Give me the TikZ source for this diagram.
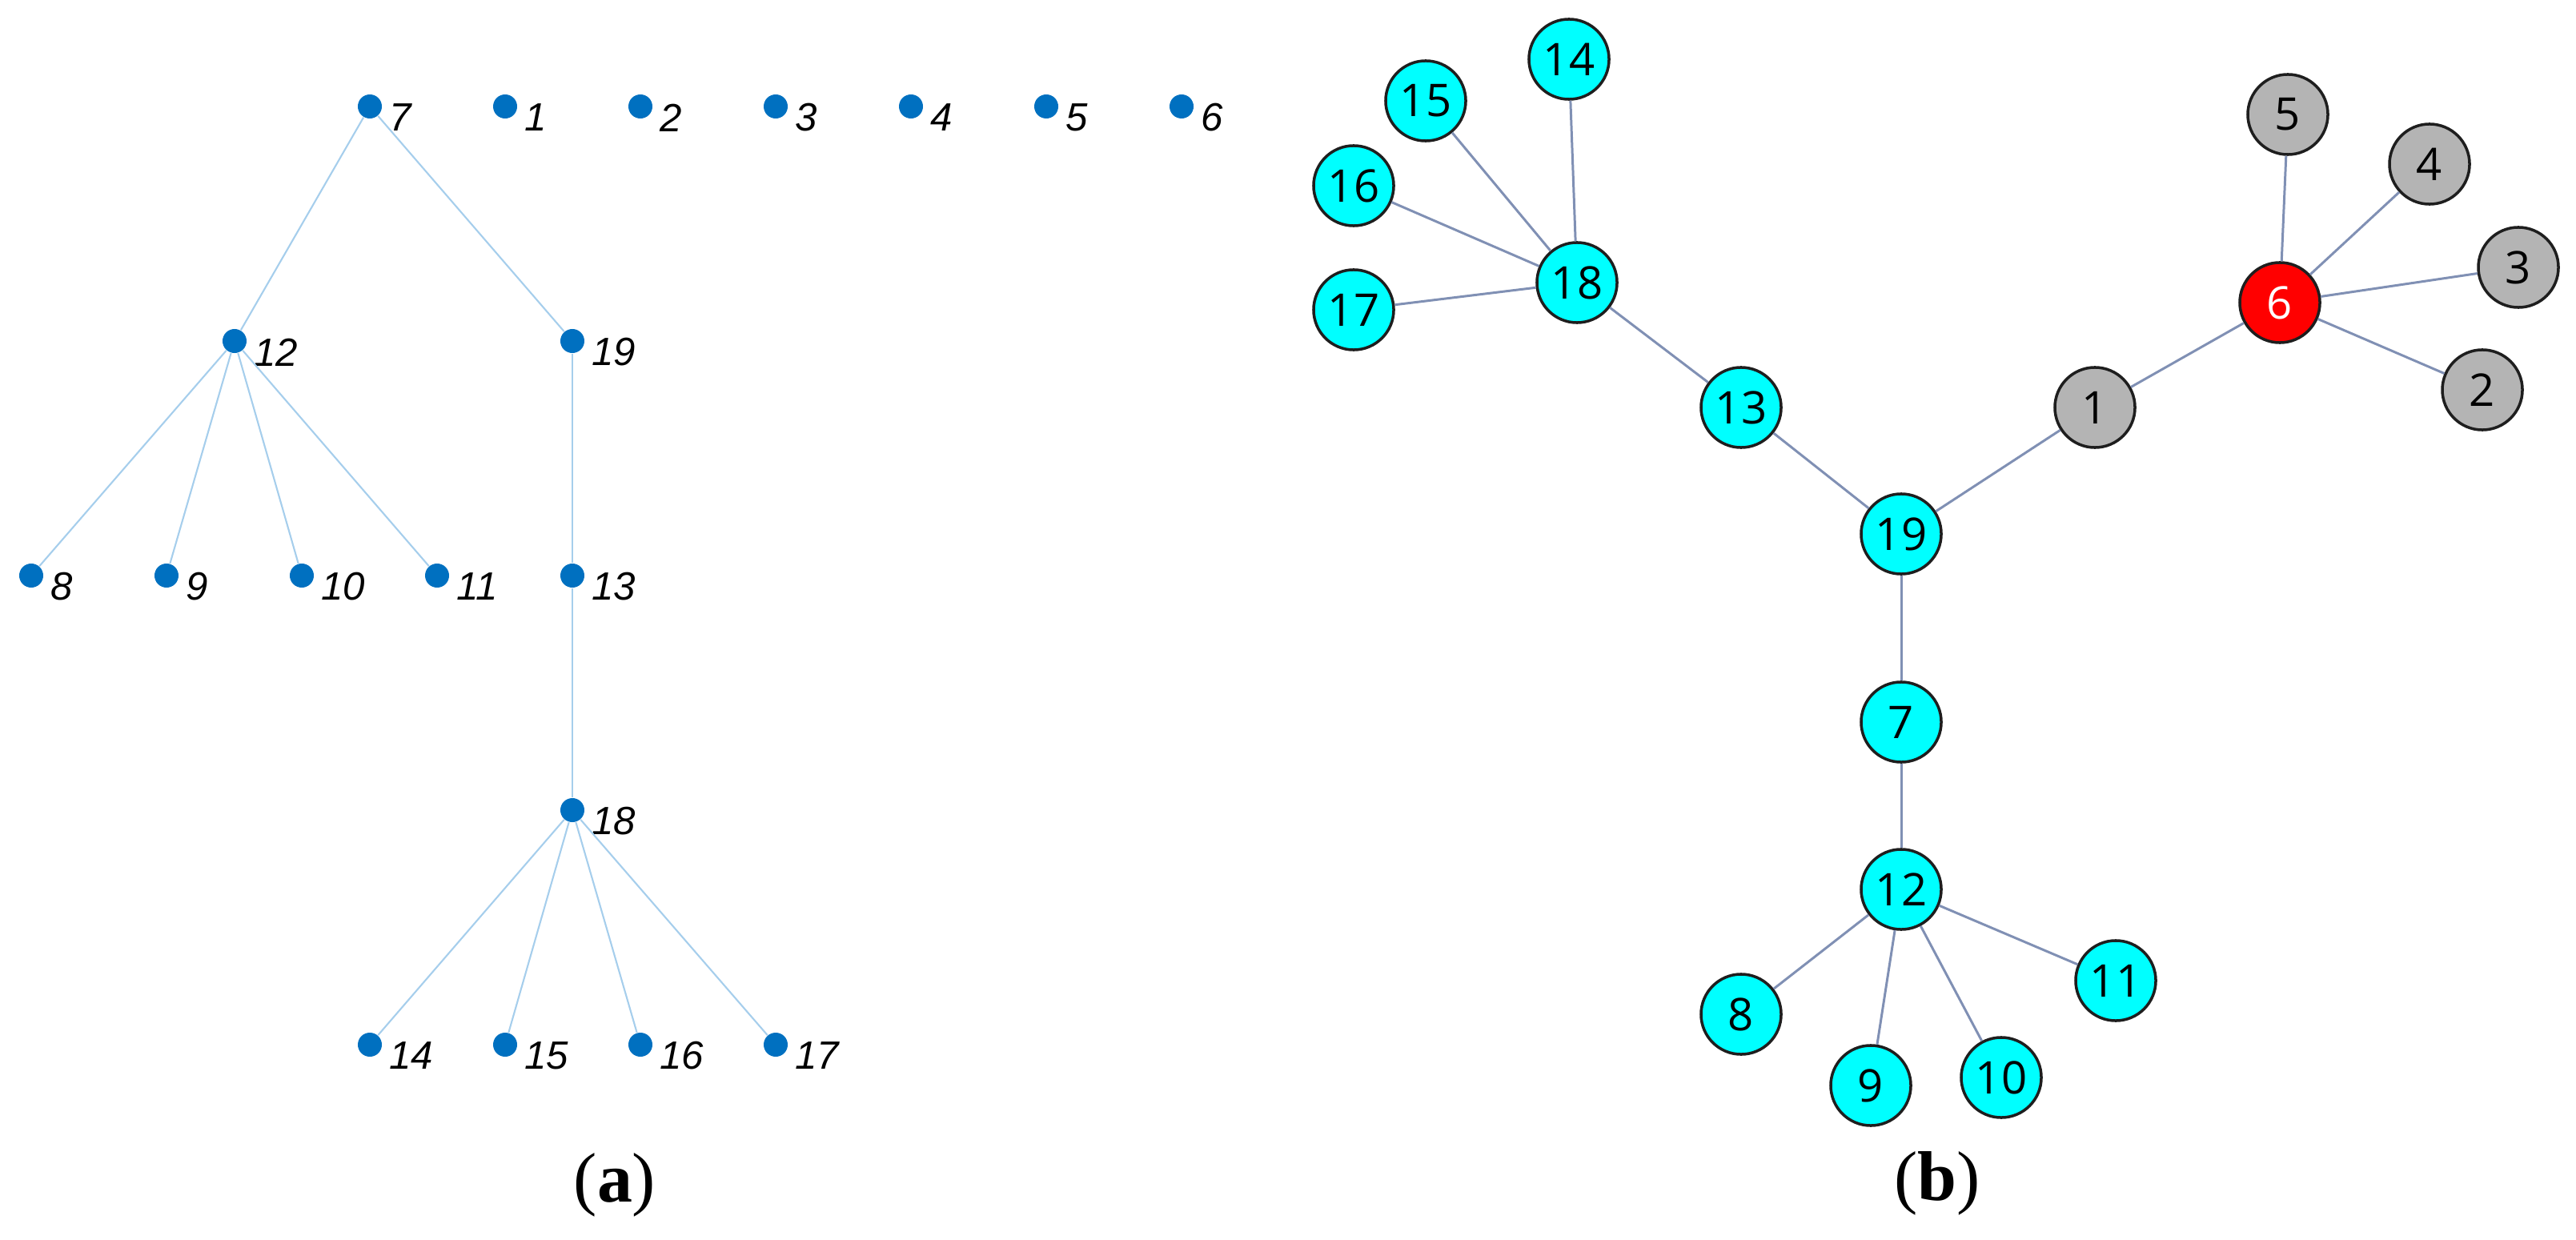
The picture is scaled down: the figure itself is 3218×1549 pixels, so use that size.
\documentclass[tikz,border=0pt]{standalone}
\usepackage{fontspec}
\setmainfont{Liberation Serif}
\newfontfamily\nodefont{Open Sans}
\newfontfamily\lblfont{Liberation Sans}
\definecolor{dotblue}{RGB}{0,112,192}
\definecolor{edgeblue}{RGB}{166,206,236}
\definecolor{edgegray}{RGB}{128,144,180}
\definecolor{nodecyan}{RGB}{0,255,255}
\definecolor{nodegray}{RGB}{180,180,180}
\definecolor{nodered}{RGB}{255,0,0}
\definecolor{rim}{RGB}{30,30,30}
\tikzset{
  tdot/.style={circle,fill=dotblue,minimum size=0.3cm,inner sep=0pt},
  lbl/.style={font=\lblfont\itshape\fontsize{14}{16}\selectfont,inner sep=0pt,xshift=0.08cm,yshift=-0.14cm},
  tedge/.style={draw=edgeblue,line width=0.6pt},
  vert/.style={circle,draw=rim,line width=1pt,minimum size=1cm,inner sep=0pt,font=\nodefont\fontsize{16}{19}\selectfont},
  vcyan/.style={vert,fill=nodecyan},
  vgray/.style={vert,fill=nodegray},
  vred/.style={vert,fill=nodered,text=white},
  gedge/.style={draw=edgegray,line width=0.85pt},
  subcap/.style={font=\fontsize{25}{28}\selectfont,inner sep=0pt}
}
\begin{document}
\begin{tikzpicture}[x=0.01cm,y=-0.01cm]
  \useasboundingbox (0,0) rectangle (3218,1549);
  % (a)
  \node[tdot,label={[lbl]right:7}] (a7) at (462,133) {};
  \foreach \i in {1,...,6}
    \node[tdot,label={[lbl]right:\i}] (a\i) at ({462+169*\i},133) {};
  \node[tdot,label={[lbl]right:12}] (a12) at (293,426) {};
  \node[tdot,label={[lbl]right:19}] (a19) at (715,426) {};
  \foreach \i in {8,...,11}
    \node[tdot,label={[lbl]right:\i}] (a\i) at ({39+169*(\i-8)},719) {};
  \node[tdot,label={[lbl]right:13}] (a13) at (715,719) {};
  \node[tdot,label={[lbl]right:18}] (a18) at (715,1012) {};
  \foreach \i in {14,...,17}
    \node[tdot,label={[lbl]right:\i}] (a\i) at ({462+169*(\i-14)},1305) {};
  \draw[tedge] (a7) -- (a12);
  \draw[tedge] (a7) -- (a19);
  \foreach \i in {8,...,11} \draw[tedge] (a12) -- (a\i);
  \draw[tedge] (a19) -- (a13) -- (a18);
  \foreach \i in {14,...,17} \draw[tedge] (a18) -- (a\i);
  \node[subcap] (capa) at (768,1480) {(\textbf{a})};
  % (b)
  \node[vcyan] (b14) at (1960,74) {14};
  \node[vcyan] (b15) at (1781,126) {15};
  \node[vcyan] (b16) at (1691,232) {16};
  \node[vcyan] (b17) at (1691,387) {17};
  \node[vcyan] (b18) at (1970,353) {18};
  \node[vcyan] (b13) at (2175,509) {13};
  \node[vcyan] (b19) at (2375,667) {19};
  \node[vcyan] (b7) at (2375,902) {7};
  \node[vcyan] (b12) at (2375,1111) {12};
  \node[vcyan] (b8) at (2175,1267) {8};
  \node[vcyan] (b9) at (2337,1356) {9};
  \node[vcyan] (b10) at (2500,1346) {10};
  \node[vcyan] (b11) at (2643,1225) {11};
  \node[vgray] (b1) at (2617,509) {1};
  \node[vred] (b6) at (2848,378) {6};
  \node[vgray] (b5) at (2858,143) {5};
  \node[vgray] (b4) at (3035,205) {4};
  \node[vgray] (b3) at (3146,334) {3};
  \node[vgray] (b2) at (3101,487) {2};
  \foreach \i in {14,...,17} \draw[gedge] (b18) -- (b\i);
  \draw[gedge] (b18) -- (b13) -- (b19) -- (b1) -- (b6);
  \foreach \i in {2,...,5} \draw[gedge] (b6) -- (b\i);
  \draw[gedge] (b19) -- (b7) -- (b12);
  \foreach \i in {8,...,11} \draw[gedge] (b12) -- (b\i);
  \node[subcap] (capb) at (2420,1478) {(\textbf{b})};
\end{tikzpicture}
\end{document}
